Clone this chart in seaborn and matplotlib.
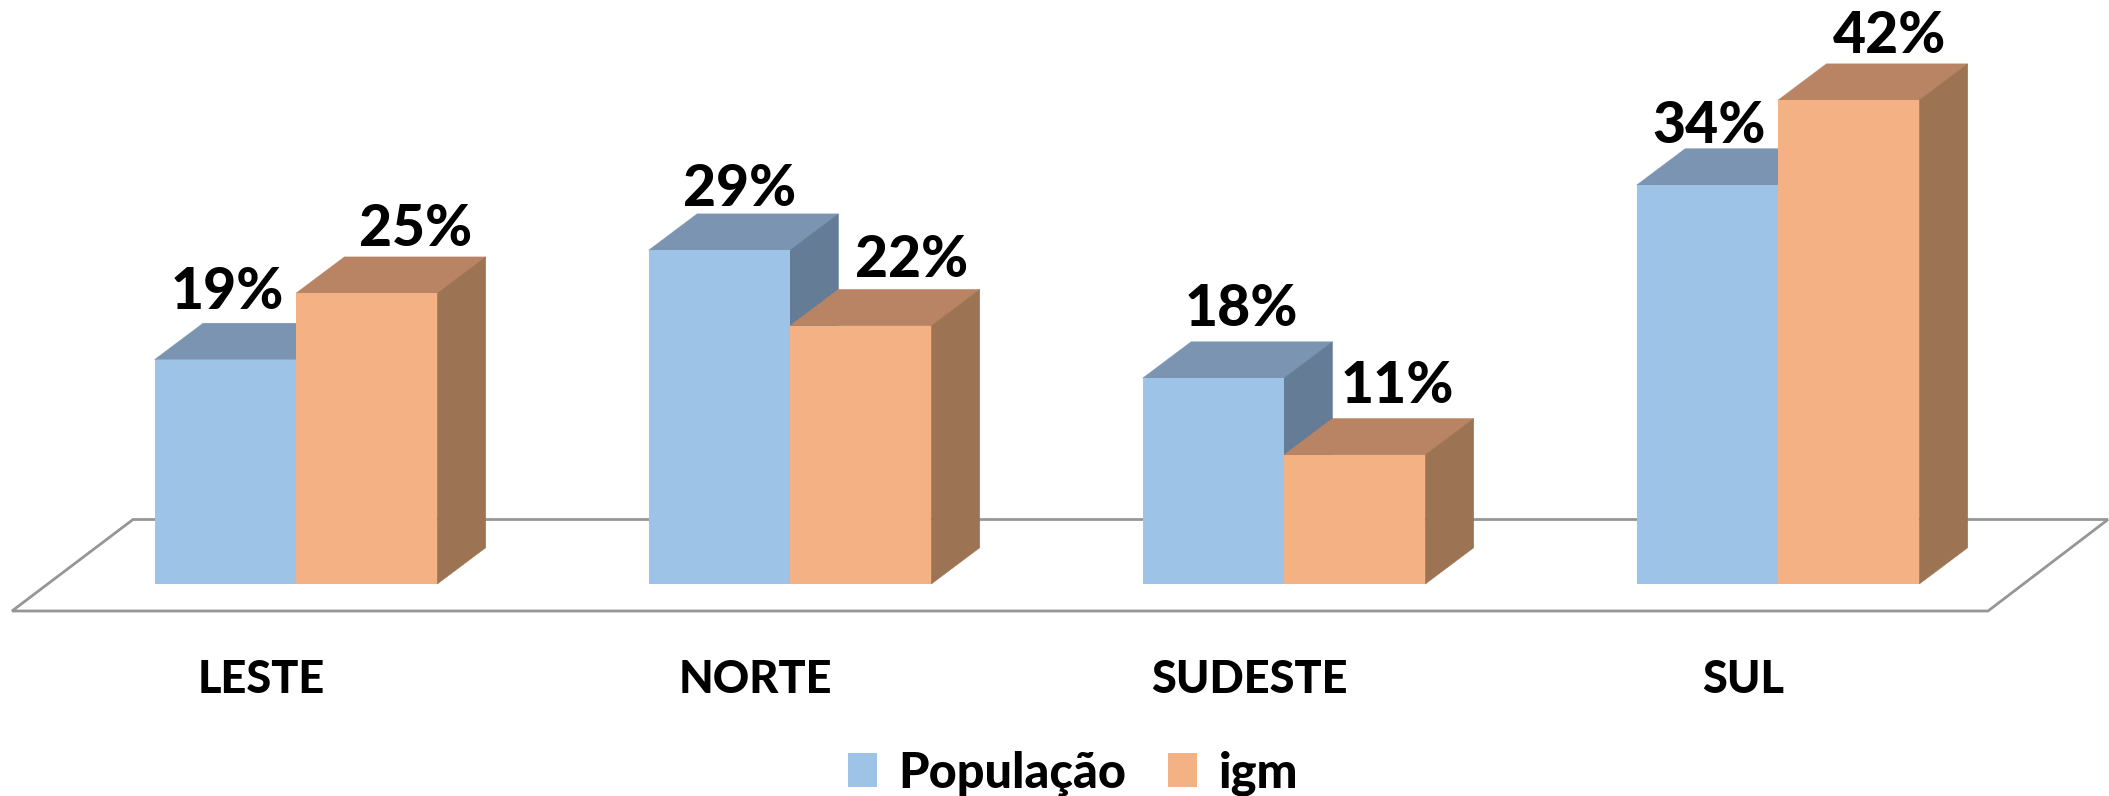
import numpy as np
import pandas as pd
import matplotlib
matplotlib.use("Agg")
import matplotlib.pyplot as plt
from matplotlib.patches import Polygon
import seaborn as sns

# ---- data ----
regions = ["LESTE", "NORTE", "SUDESTE", "SUL"]
populacao = [19.3, 28.7, 17.7, 34.3]
igm = [25.0, 22.2, 11.1, 41.6]
series_names = ["População", "igm"]

# ---- style ----
front_colors = ["#9DC3E6", "#F4B183"]
top_colors = ["#7A94B1", "#B98463"]
side_colors = ["#647C95", "#9C7353"]
floor_color = "#969696"
# label offsets from the bar's front-top centre (x in category units, y in %)
label_dx = [[0.005, 0.041, 0.057, 0.003], [0.100, 0.104, 0.086, 0.082]]
label_dy = [[5.8, 5.2, 5.9, 5.0], [5.5, 5.6, 5.9, 5.5]]
WEIGHT = 900

sns.set_style("white")
plt.rcParams["font.family"] = ["Lato", "DejaVu Sans"]
plt.rcParams["font.weight"] = WEIGHT

W, H = 2109, 796
fig = plt.figure(figsize=(W / 100, H / 100), dpi=100)
left, right, base, px_per_pct = 49.0, 2025.0, 584.0, 11.63
ymax = 50
ax = fig.add_axes([left / W, 1 - base / H, (right - left) / W, ymax * px_per_pct / H])

df = pd.DataFrame({
    "region": regions * 2,
    "serie": [series_names[0]] * 4 + [series_names[1]] * 4,
    "valor": populacao + igm,
})
sns.barplot(data=df, x="region", y="valor", hue="serie", order=regions,
            hue_order=series_names, palette=front_colors, width=0.572, gap=0,
            saturation=1, ax=ax, zorder=3, linewidth=0)

ax.set_xlim(-0.5, 3.5)
ax.set_ylim(0, ymax)
ax.set_xlabel("")
ax.set_ylabel("")
ax.set_yticks([])
for s in ax.spines.values():
    s.set_visible(False)
ax.patch.set_alpha(0)

depth_x = 48.4 / ((right - left) / 4)
depth_y = 36.3 / px_per_pct

# floor of the 3D chart
unit_x = (right - left) / 4
def fx(px):
    return (px - left) / unit_x - 0.5
def fy(py):
    return (base - py) / px_per_pct
floor = [(fx(12), fy(611)), (fx(1988), fy(611)), (fx(2108), fy(519.5)), (fx(133), fy(519.5))]
ax.add_patch(Polygon(floor, closed=True, facecolor="white", edgecolor=floor_color,
                     linewidth=2.0, clip_on=False, zorder=1, joinstyle="miter"))

# depth faces built from the bars that seaborn drew
for k, cont in enumerate(ax.containers):
    for i, bar in enumerate(cont):
        x0, w, h = bar.get_x(), bar.get_width(), bar.get_height()
        x1 = x0 + w
        z = 2 + k * 0.2
        ax.add_patch(Polygon([(x0, h), (x1, h), (x1 + depth_x, h + depth_y), (x0 + depth_x, h + depth_y)],
                             facecolor=top_colors[k], edgecolor=top_colors[k], linewidth=0.4,
                             clip_on=False, zorder=z))
        ax.add_patch(Polygon([(x1, 0), (x1 + depth_x, depth_y), (x1 + depth_x, h + depth_y), (x1, h)],
                             facecolor=side_colors[k], edgecolor=side_colors[k], linewidth=0.4,
                             clip_on=False, zorder=z))
        ax.text(x0 + w / 2 + label_dx[k][i], h + label_dy[k][i], f"{round(h)}%",
                ha="center", va="center", fontsize=41, fontweight=WEIGHT,
                color="black", clip_on=False, zorder=6)

# category labels sit left of the group centres, as in the reference
ax.set_xticks(np.arange(len(regions)) - 0.0708, regions)
ax.tick_params(axis="x", length=0, pad=54, labelsize=32.5)
for t in ax.get_xticklabels():
    t.set_fontweight(WEIGHT)
    t.set_color("black")

handles, labels = ax.get_legend_handles_labels()
ax.get_legend().remove() if ax.get_legend() else None
fs = 35
leg = fig.legend(handles, labels, loc="center", bbox_to_anchor=(1073 / W, 1 - 773 / H), ncol=2,
                 frameon=False, fontsize=fs, handlelength=21 / fs, handleheight=0.7,
                 handletextpad=0.45, columnspacing=0.85, borderpad=0, borderaxespad=0)
for t in leg.get_texts():
    t.set_color("black")
    t.set_fontweight(WEIGHT)

fig.savefig("out.png", dpi=100, facecolor="white")
